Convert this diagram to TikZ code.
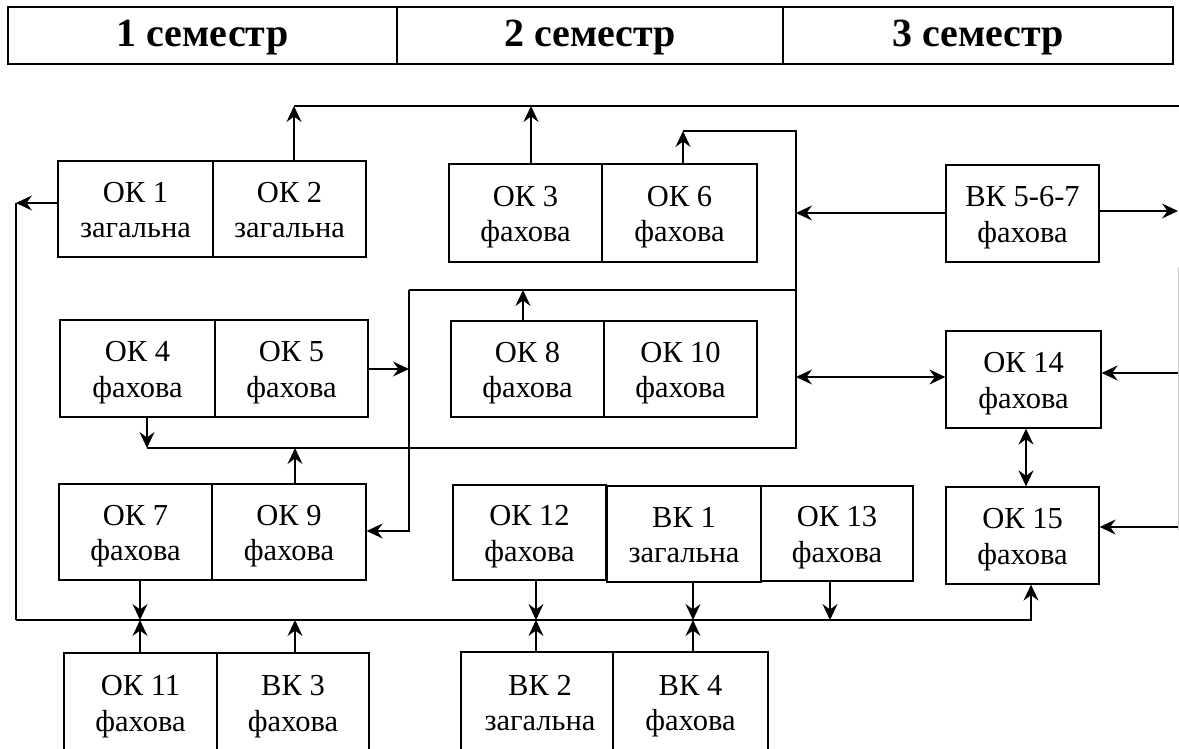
\documentclass[tikz,border=0pt]{standalone}
\usepackage{fontspec}
\setmainfont{Liberation Serif}
\usetikzlibrary{arrows.meta,calc}
\newcommand\cstrut{\rule[-7pt]{0pt}{35.5pt}}
\newcommand\hstrut{\rule[-9pt]{0pt}{41pt}}
\begin{document}
\begin{tikzpicture}[x=1pt,y=-1pt, line width=1.3pt,
  cell/.style={draw, rectangle, inner sep=0pt, align=center, font=\fontsize{30.5}{35.5}\selectfont},
  hcell/.style={draw, rectangle, inner sep=0pt, minimum height=57pt, font=\fontsize{40}{42}\selectfont\bfseries},
  arr/.style={-{Stealth[length=16pt,width=15pt,inset=5.5pt]}},
  darr/.style={{Stealth[length=16pt,width=15pt,inset=5.5pt]}-{Stealth[length=16pt,width=15pt,inset=5.5pt]}},
  faint/.style={draw=black!20, line width=0.8pt}
]
\useasboundingbox (0,0) rectangle (1179,749);

% header
\node[hcell, minimum width=389pt] (h1) at (202.5,35.5) {\hstrut 1 семестр};
\node[hcell, minimum width=386pt] (h2) at (590,35.5) {\hstrut 2 семестр};
\node[hcell, minimum width=390pt] (h3) at (978,35.5) {\hstrut 3 семестр};

% boxes
\node[cell, minimum width=155pt, minimum height=96pt] (ok1) at (135.5,209) {\cstrut ОК 1\\\cstrut загальна};
\node[cell, minimum width=153pt, minimum height=96pt] (ok2) at (289.5,209) {\cstrut ОК 2\\\cstrut загальна};
\node[cell, minimum width=153pt, minimum height=98pt] (ok3) at (525.5,213) {\cstrut ОК 3\\\cstrut фахова};
\node[cell, minimum width=155pt, minimum height=98pt] (ok6) at (679.5,213) {\cstrut ОК 6\\\cstrut фахова};
\node[cell, minimum width=153pt, minimum height=97pt] (vk567) at (1022.5,213.5) {\cstrut ВК 5-6-7\\\cstrut фахова};
\node[cell, minimum width=155pt, minimum height=97pt] (ok4) at (137.5,368.5) {\cstrut ОК 4\\\cstrut фахова};
\node[cell, minimum width=153pt, minimum height=97pt] (ok5) at (291.5,368.5) {\cstrut ОК 5\\\cstrut фахова};
\node[cell, minimum width=153pt, minimum height=96pt] (ok8) at (527.5,369) {\cstrut ОК 8\\\cstrut фахова};
\node[cell, minimum width=153pt, minimum height=96pt] (ok10) at (680.5,369) {\cstrut ОК 10\\\cstrut фахова};
\node[cell, minimum width=155pt, minimum height=97pt] (ok14) at (1023.5,379.5) {\cstrut ОК 14\\\cstrut фахова};
\node[cell, minimum width=153pt, minimum height=96pt] (ok7) at (135.5,532) {\cstrut ОК 7\\\cstrut фахова};
\node[cell, minimum width=154pt, minimum height=96pt] (ok9) at (289,532) {\cstrut ОК 9\\\cstrut фахова};
\node[cell, minimum width=153pt, minimum height=95pt] (ok12) at (529.5,532.5) {\cstrut ОК 12\\\cstrut фахова};
\node[cell, minimum width=154pt, minimum height=96pt] (vk1) at (684,534) {\cstrut ВК 1\\\cstrut загальна};
\node[cell, minimum width=152pt, minimum height=95pt] (ok13) at (837,533.5) {\cstrut ОК 13\\\cstrut фахова};
\node[cell, minimum width=153pt, minimum height=97pt] (ok15) at (1022.5,535.5) {\cstrut ОК 15\\\cstrut фахова};
\node[cell, minimum width=153pt, minimum height=99pt] (ok11) at (140.5,702.5) {\cstrut ОК 11\\\cstrut фахова};
\node[cell, minimum width=152pt, minimum height=99pt] (vk3) at (293,702.5) {\cstrut ВК 3\\\cstrut фахова};
\node[cell, minimum width=152pt, minimum height=100pt] (vk2) at (537,702) {\hspace*{6pt}\cstrut ВК 2\\\hspace*{6pt}\cstrut загальна};
\node[cell, minimum width=155pt, minimum height=100pt] (vk4) at (690.5,702) {\cstrut ВК 4\\\cstrut фахова};

% junction coordinates
\coordinate (t294) at (294,106);
\coordinate (tR) at (1179,106);
\coordinate (t531) at (531,106);
\coordinate (a683) at (683,131);
\coordinate (v131) at (796,131);
\coordinate (v448) at (796,448);
\coordinate (l147) at (147,448);
\coordinate (l295) at (295,448);
\coordinate (m290R) at (796,290);
\coordinate (m290L) at (409,290);
\coordinate (m523) at (523,290);
\coordinate (m369) at (409,369);
\coordinate (m531) at (409,531);
\coordinate (v213) at (796,213);
\coordinate (r211) at (1178,211);
\coordinate (v377) at (796,377);
\coordinate (r373) at (1179,373);
\coordinate (r527) at (1179,527);
\coordinate (lv) at (16,203);
\coordinate (lb) at (16,620);
\coordinate (bR) at (1031,620);
\coordinate (b140) at (140,620);
\coordinate (b295) at (295,620);
\coordinate (b536) at (536,620);
\coordinate (b693) at (693,620);
\coordinate (b830) at (830,620);
\coordinate (c1026) at (1026,0);
\coordinate (fT) at (1178.5,267);
\coordinate (fB) at (1178.5,530);

% connectors
\draw[arr] (ok2.north -| t294) -- (t294);
\draw (t294) -- (tR);
\draw[arr] (ok3.north -| t531) -- (t531);
\draw[arr] (ok6.north -| a683) -- (a683);
\draw (a683) -- (v131) -- (v448) -- (l147);
\draw[arr] (ok4.south -| l147) -- (l147);
\draw[arr] (ok9.north -| l295) -- (l295);
\draw (m290R) -- (m290L);
\draw[arr] (m290L) -- (m531) -- (ok9.east |- m531);
\draw[arr] (ok8.north -| m523) -- (m523);
\draw[arr] (ok5.east |- m369) -- (m369);
\draw[arr] (vk567.west |- v213) -- (v213);
\draw[arr] (vk567.east |- r211) -- (r211);
\draw[darr] (v377) -- (ok14.west |- v377);
\draw[arr] (r373) -- (ok14.east |- r373);
\draw[arr] (r527) -- (ok15.east |- r527);
\draw[darr] (ok14.south -| c1026) -- (ok15.north -| c1026);
\draw[faint] (fT) -- (fB);
\draw[arr] (ok1.west |- lv) -- (lv);
\draw (lv) -- (lb);
\draw[arr] (lb) -- (bR) -- (ok15.south -| bR);
\draw[arr] (ok7.south -| b140) -- (b140);
\draw[arr] (ok12.south -| b536) -- (b536);
\draw[arr] (vk1.south -| b693) -- (b693);
\draw[arr] (ok13.south -| b830) -- (b830);
\draw[arr] (ok11.north -| b140) -- (b140);
\draw[arr] (vk3.north -| b295) -- (b295);
\draw[arr] (vk2.north -| b536) -- (b536);
\draw[arr] (vk4.north -| b693) -- (b693);
\end{tikzpicture}
\end{document}
